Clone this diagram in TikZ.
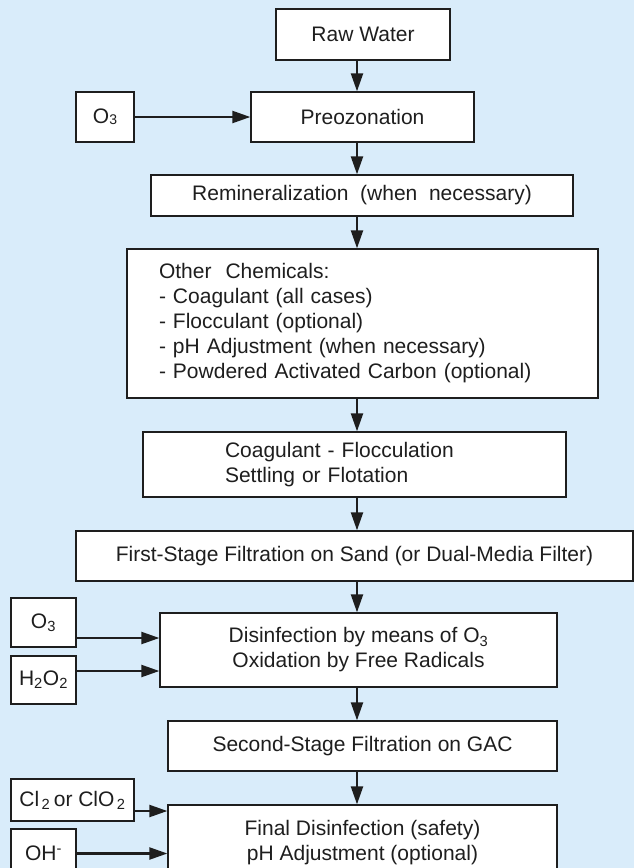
\documentclass[tikz,border=0pt]{standalone}
\usepackage{fontspec}
\setmainfont{Liberation Sans}
\usetikzlibrary{arrows.meta}
\definecolor{bgblue}{RGB}{217,236,250}
\definecolor{ink}{RGB}{30,30,30}
\begin{document}
\begin{tikzpicture}[x=1pt,y=-1pt,
  box/.style={draw=ink, line width=1.3pt, fill=white, inner sep=0pt, text=ink,
    font=\fontsize{21}{25}\selectfont, align=center},
  flow/.style={draw=ink, line width=2.2pt, -{Triangle[length=18pt,width=12pt]}}]
\useasboundingbox (0,0) rectangle (634,868);
\fill[bgblue] (0,0) rectangle (634,868);
\coordinate (spine) at (357,0);
% main column
\node[box, minimum width=174pt, minimum height=51pt] (raw) at (363,34.5) {Raw Water};
\node[box, minimum width=223pt, minimum height=50pt] (pre) at (362.5,117) {Preozonation};
\node[box, minimum width=58pt, minimum height=50pt] (o3a) at (105,117) {O\raisebox{-1pt}{\fontsize{14}{14}\selectfont 3}};
\node[box, minimum width=422pt, minimum height=41pt] (remin) at (362,195.5) {Remineralization\ \ (when\ \ necessary)};
\node[box, minimum height=149pt, inner xsep=32pt, text width=407pt, align=left] (other) at (362.5,323.5)
  {Other\ \ Chemicals:\\- Coagulant (all cases)\\- Flocculant (optional)\\- pH Adjustment (when necessary)\\- Powdered Activated Carbon (optional)};
\node[box, minimum height=65pt, inner xsep=82pt, text width=259pt, align=left] (coag) at (354.5,464.5)
  {Coagulant - Flocculation\\Settling or Flotation};
\node[box, minimum width=557pt, minimum height=50pt] (first) at (354.5,556) {First-Stage Filtration on Sand (or Dual-Media Filter)};
\node[box, minimum width=397pt, minimum height=74pt] (dis) at (358.5,650) {Disinfection by means of O\textsubscript{3}\\Oxidation by Free Radicals};
\node[box, minimum width=65pt, minimum height=49pt] (o3b) at (43.5,622.5) {O\textsubscript{3}};
\node[box, minimum width=65pt, minimum height=48pt] (h2o2) at (43.5,680) {H\textsubscript{2}O\textsubscript{2}};
\node[box, minimum width=389pt, minimum height=50pt] (second) at (362.5,746) {Second-Stage Filtration on GAC};
\node[box, minimum width=389pt, minimum height=75pt] (final) at (362.5,842.5) {Final Disinfection (safety)\\pH Adjustment (optional)};
\node[box, minimum width=123pt, minimum height=42pt] (cl) at (72.5,800) {Cl\textsubscript{\,2}\,or ClO\textsubscript{\,2}};
\node[box, minimum width=65pt, minimum height=49pt] (oh) at (43.5,853.5) {OH\textsuperscript{-}};
% vertical flow
\draw[flow] (raw.south -| spine) -- (pre.north -| spine);
\draw[flow] (pre.south -| spine) -- (remin.north -| spine);
\draw[flow] (remin.south -| spine) -- (other.north -| spine);
\draw[flow] (other.south -| spine) -- (coag.north -| spine);
\draw[flow] (coag.south -| spine) -- (first.north -| spine);
\draw[flow] (first.south -| spine) -- (dis.north -| spine);
\draw[flow] (dis.south -| spine) -- (second.north -| spine);
\draw[flow] (second.south -| spine) -- (final.north -| spine);
% side inputs
\draw[flow] (o3a.east) -- (o3a.east -| pre.west);
\coordinate (o3bout) at ([yshift=-15.5pt]o3b.east);
\coordinate (h2o2out) at ([yshift=9pt]h2o2.east);
\coordinate (clout) at ([yshift=-11pt]cl.east);
\draw[flow] (o3bout) -- (o3bout -| dis.west);
\draw[flow] (h2o2out) -- (h2o2out -| dis.west);
\draw[flow] (clout) -- (clout -| final.west);
\draw[flow] (oh.east) -- (oh.east -| final.west);
\end{tikzpicture}
\end{document}
